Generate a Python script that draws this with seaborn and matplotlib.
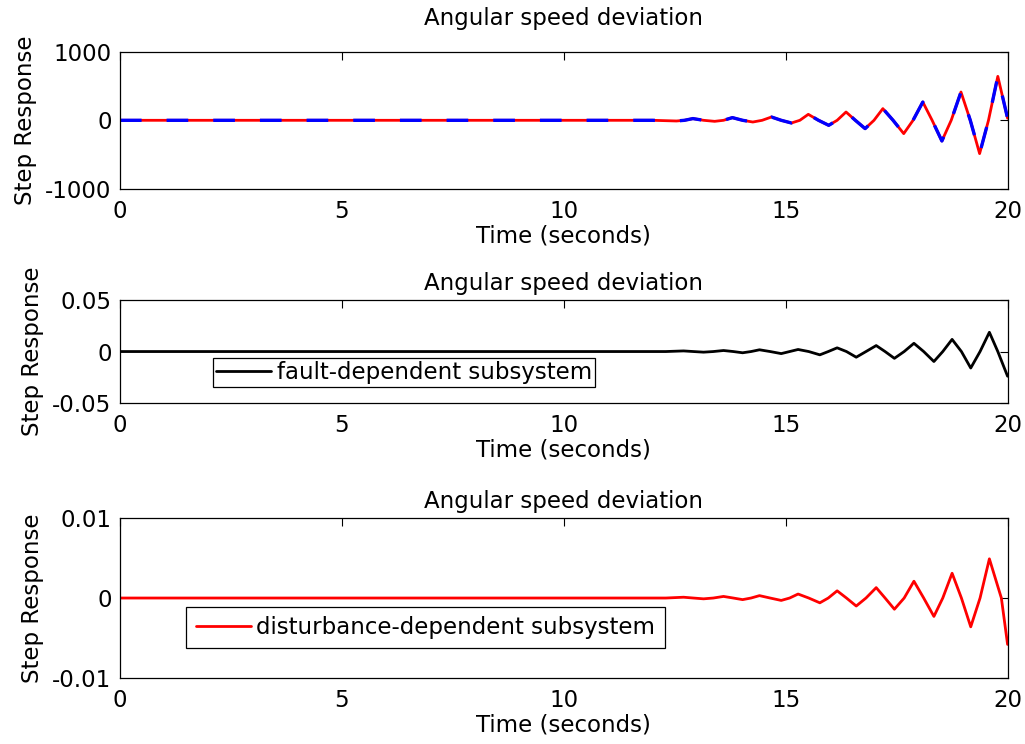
import matplotlib
matplotlib.use("Agg")
import matplotlib.pyplot as plt
import seaborn as sns

# ---------------- data ----------------
x_ticks = [0, 5, 10, 15, 20]
x_tick_labels = ["0", "5", "10", "15", "20"]

top_time = [0, 12.0, 12.54, 12.72, 12.91, 13.15, 13.40, 13.60, 13.80, 14.03, 14.26,
            14.47, 14.68, 14.90, 15.13, 15.32, 15.51, 15.74, 15.97, 16.16, 16.36,
            16.57, 16.79, 16.99, 17.19, 17.42, 17.66, 17.87, 18.09, 18.30, 18.52,
            18.73, 18.95, 19.16, 19.37, 19.57, 19.78, 20.0]
top_red = [0, 0, -10, 0, 25, 0, -15, 0, 39, 0, -25, 0, 48, 0, -39, 0, 87, 0, -73, 0,
           121, 0, -121, 0, 170, 0, -194, 0, 266, 0, -301, 0, 412, 0, -485, 0, 640, 30]
top_blue = [0, 0, -10, 0, 25, 0, -15, 0, 39, 0, -25, 0, 48, 0, -39, 0, 87, 0, -73, 0,
            121, 0, -121, 0, 170, 0, -194, 0, 266, 0, -301, 0, 412, 0, -485, 0, 640, 30]
top_yticks = [-1000, 0, 1000]
top_ytick_labels = ["-1000", "0", "1000"]

mid_time = [0, 12.3, 12.7, 12.92, 13.15, 13.37, 13.6, 13.82, 14.03, 14.22, 14.41, 14.65,
            14.9, 15.09, 15.28, 15.52, 15.77, 15.96, 16.16, 16.37, 16.59, 16.81, 17.04,
            17.24, 17.45, 17.67, 17.89, 18.11, 18.34, 18.54, 18.75, 18.96, 19.17, 19.38,
            19.59, 19.78, 20.0]
mid_fault = [0, 0, 0.0006, 0, -0.0006, 0, 0.0010, 0, -0.0012, 0, 0.0017, 0, -0.0020, 0,
             0.0020, 0, -0.0032, 0, 0.0036, 0, -0.0055, 0, 0.0058, 0, -0.0066, 0, 0.0080,
             0, -0.0097, 0, 0.0118, 0, -0.0160, 0, 0.0187, 0, -0.024]
mid_yticks = [-0.05, 0, 0.05]
mid_ytick_labels = ["-0.05", "0", "0.05"]

bot_time = [0, 12.3, 12.7, 12.92, 13.15, 13.37, 13.6, 13.82, 14.03, 14.22, 14.41, 14.65,
            14.9, 15.09, 15.28, 15.52, 15.77, 15.96, 16.16, 16.37, 16.59, 16.81, 17.04,
            17.24, 17.45, 17.67, 17.89, 18.11, 18.34, 18.54, 18.75, 18.96, 19.17, 19.38,
            19.59, 19.86, 20.0]
bot_dist = [0, 0, 0.0001, 0, -0.0001, 0, 0.0002, 0, -0.0002, 0, 0.0003, 0, -0.0003, 0,
            0.0005, 0, -0.0006, 0, 0.0009, 0, -0.0010, 0, 0.0013, 0, -0.0014, 0, 0.0021,
            0, -0.0023, 0, 0.0031, 0, -0.0036, 0, 0.0049, 0, -0.0058]
bot_yticks = [-0.01, 0, 0.01]
bot_ytick_labels = ["-0.01", "0", "0.01"]

title_text = "Angular speed deviation"
xlabel_text = "Time (seconds)"
ylabel_text = "Step Response"
legend_mid = "fault-dependent subsystem"
legend_bot = "disturbance-dependent subsystem"

# ---------------- style ----------------
sns.set_theme(style="white")
plt.rcParams["font.family"] = ["DejaVu Sans"]
plt.rcParams["axes.unicode_minus"] = False
plt.rcParams["text.color"] = "black"
FS = 16.5

fig = plt.figure(figsize=(10.25, 7.44), dpi=100)
ax_top = fig.add_axes([0.117, 0.746, 0.866, 0.1846])
ax_mid = fig.add_axes([0.117, 0.4583, 0.866, 0.1384])
ax_bot = fig.add_axes([0.117, 0.0887, 0.866, 0.215])

# top
sns.lineplot(x=top_time, y=top_red, ax=ax_top, color="#ff0000", lw=2.0,
             estimator=None, sort=False)
sns.lineplot(x=top_time, y=top_blue, ax=ax_top, color="#0000ff", lw=2.4,
             estimator=None, sort=False, dashes=False)
ax_top.lines[-1].set_dashes([6.5, 7.5])
ax_top.set_ylim(-1000, 1000)
ax_top.set_yticks(top_yticks)
ax_top.set_yticklabels(top_ytick_labels)

# middle
sns.lineplot(x=mid_time, y=mid_fault, ax=ax_mid, color="black", lw=2.0,
             estimator=None, sort=False, label=legend_mid)
ax_mid.set_ylim(-0.05, 0.05)
ax_mid.set_yticks(mid_yticks)
ax_mid.set_yticklabels(mid_ytick_labels)

# bottom
sns.lineplot(x=bot_time, y=bot_dist, ax=ax_bot, color="#ff0000", lw=2.0,
             estimator=None, sort=False, label=legend_bot)
ax_bot.set_ylim(-0.01, 0.01)
ax_bot.set_yticks(bot_yticks)
ax_bot.set_yticklabels(bot_ytick_labels)

for ax, tpad in ((ax_top, 19), (ax_mid, 7), (ax_bot, 7)):
    ax.set_xlim(0, 20)
    ax.set_xticks(x_ticks)
    ax.set_xticklabels(x_tick_labels)
    ax.tick_params(direction="in", top=True, right=True, length=6, width=0.8,
                   color="black", labelsize=FS, labelcolor="black", pad=6)
    ax.tick_params(axis="x", pad=8)
    for s in ax.spines.values():
        s.set_color("black")
        s.set_linewidth(0.9)
    ax.set_title(title_text, fontsize=FS, color="black", pad=tpad)
    ax.set_xlabel(xlabel_text, fontsize=FS, color="black", labelpad=1)
    ax.set_ylabel(ylabel_text, fontsize=FS, color="black", labelpad=6)
    ax.grid(False)

leg = ax_mid.legend(loc="upper left", bbox_to_anchor=(0.105, 0.437), borderaxespad=0,
                    fontsize=FS, frameon=True, fancybox=False, edgecolor="black",
                    framealpha=1, handlelength=2.4, handletextpad=0.25,
                    borderpad=0.12, labelspacing=0)
leg.get_frame().set_linewidth(0.9)
for t in leg.get_texts():
    t.set_color("black")
leg = ax_bot.legend(loc="upper left", bbox_to_anchor=(0.075, 0.444), borderaxespad=0,
                    fontsize=FS, frameon=True, fancybox=False, edgecolor="black",
                    framealpha=1, handlelength=2.4, handletextpad=0.25,
                    borderpad=0.4, labelspacing=0)
leg.get_frame().set_linewidth(0.9)
for t in leg.get_texts():
    t.set_color("black")

fig.savefig("out.png", dpi=100, facecolor="white")
